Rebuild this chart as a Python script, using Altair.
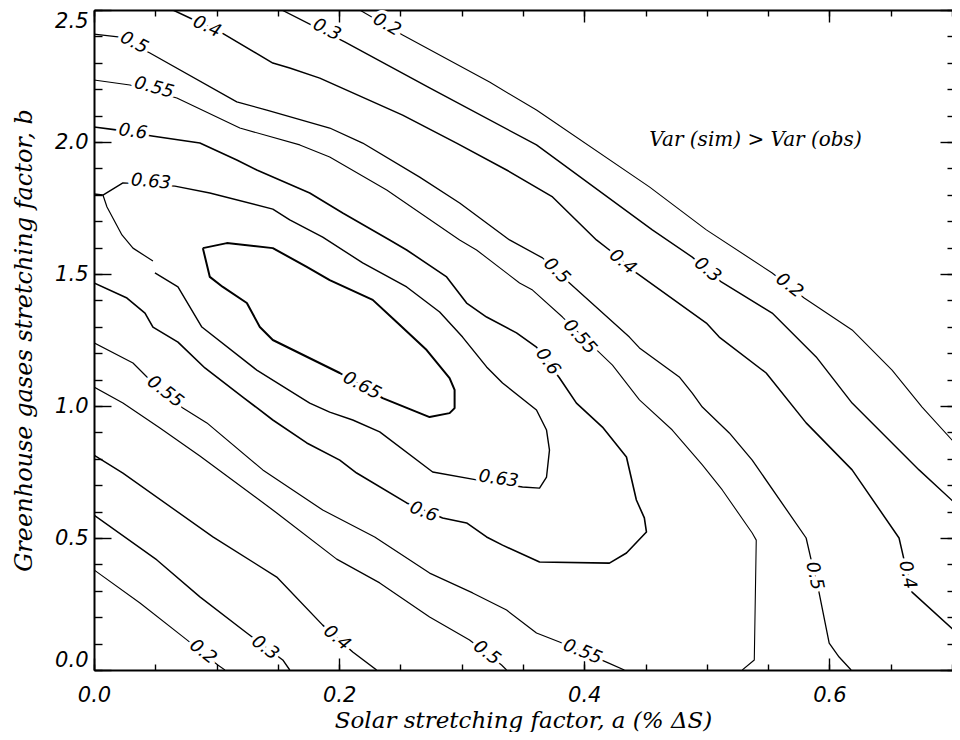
import altair as alt
import pandas as pd

# ---- contour lines (a = solar stretching factor, b = greenhouse stretching factor) ----
c02_hi_a = [0.2168, 0.2518, 0.3227, 0.361, 0.4531, 0.4996, 0.5533, 0.5794, 0.6185, 0.6511, 0.6756, 0.7041]
c02_hi_b = [2.5, 2.405, 2.227, 2.121, 1.83, 1.667, 1.504, 1.409, 1.288, 1.136, 0.996, 0.85]

c03_hi_a = [0.1532, 0.2045, 0.2738, 0.361, 0.4555, 0.4881, 0.5118, 0.5533, 0.5892, 0.6185, 0.6731, 0.7041]
c03_hi_b = [2.5, 2.379, 2.205, 1.989, 1.667, 1.564, 1.47, 1.352, 1.186, 1.011, 0.758, 0.625]

c04_hi_a = [0.0644, 0.1043, 0.1459, 0.1597, 0.1842, 0.2518, 0.2958, 0.3366, 0.3741, 0.4099, 0.4205,
            0.4425, 0.4996, 0.5101, 0.5484, 0.581, 0.6185, 0.6568, 0.6609, 0.6674, 0.7041]
c04_hi_b = [2.5, 2.413, 2.299, 2.28, 2.242, 2.102, 1.996, 1.894, 1.792, 1.629, 1.591,
            1.504, 1.314, 1.261, 1.125, 0.936, 0.758, 0.5, 0.417, 0.295, 0.14]

c05_hi_a = [0.0, 0.0196, 0.0456, 0.1165, 0.141, 0.1923, 0.2192, 0.2657, 0.2983, 0.339, 0.3659, 0.3879,
            0.4368, 0.445, 0.4775, 0.4881, 0.4963, 0.5183, 0.537, 0.581, 0.5851, 0.5916, 0.5998, 0.6079, 0.6177]
c05_hi_b = [2.409, 2.398, 2.337, 2.152, 2.121, 2.053, 1.996, 1.867, 1.769, 1.629, 1.561, 1.466,
            1.261, 1.22, 1.11, 1.049, 0.996, 0.898, 0.795, 0.5, 0.417, 0.292, 0.102, 0.049, 0.0]

c055_hi_a = [0.0, 0.0293, 0.0676, 0.119, 0.1679, 0.1923, 0.2388, 0.2983, 0.3121, 0.3472, 0.3578,
             0.3822, 0.423, 0.445, 0.4718, 0.4963, 0.5126, 0.537, 0.5403, 0.5387, 0.5289]
c055_hi_b = [2.235, 2.216, 2.167, 2.053, 1.989, 1.943, 1.818, 1.629, 1.591, 1.466, 1.439,
             1.337, 1.155, 1.023, 0.909, 0.777, 0.682, 0.519, 0.492, 0.038, 0.0]

c06_a = [0.0, 0.0196, 0.0473, 0.0864, 0.1165, 0.1328, 0.176, 0.2029, 0.2412, 0.2551, 0.2877, 0.304,
         0.3203, 0.3447, 0.361, 0.3798, 0.3936, 0.4148, 0.4344, 0.4425, 0.449, 0.4507, 0.4344, 0.4205,
         0.3635, 0.3333, 0.3203, 0.304, 0.2844, 0.2551, 0.2143, 0.2005, 0.1736, 0.1459, 0.1214, 0.0905,
         0.0685, 0.0481, 0.0416, 0.0269, 0.0]
c06_b = [2.057, 2.045, 2.023, 1.996, 1.932, 1.894, 1.807, 1.731, 1.629, 1.591, 1.489, 1.39,
         1.337, 1.277, 1.223, 1.106, 1.011, 0.92, 0.807, 0.644, 0.576, 0.523, 0.443, 0.405,
         0.409, 0.473, 0.504, 0.557, 0.576, 0.633, 0.746, 0.795, 0.86, 0.947, 1.034, 1.144,
         1.242, 1.299, 1.352, 1.409, 1.466]

c063_a = [0.0, 0.0073, 0.0236, 0.066, 0.0945, 0.1459, 0.1597, 0.1866, 0.2192, 0.2551, 0.282, 0.3007,
          0.3203, 0.3333, 0.361, 0.3692, 0.3716, 0.3692, 0.3635, 0.3496, 0.3121, 0.2763, 0.2331, 0.2111,
          0.1923, 0.176, 0.1328, 0.088, 0.0685, 0.0497]
c063_b = [1.803, 1.799, 1.845, 1.833, 1.807, 1.746, 1.705, 1.64, 1.542, 1.451, 1.356, 1.261,
          1.148, 1.087, 0.985, 0.909, 0.833, 0.731, 0.689, 0.693, 0.72, 0.75, 0.902, 0.947,
          0.977, 1.011, 1.136, 1.299, 1.451, 1.504]
c063_tail_a = [0.0481, 0.0318, 0.0228, 0.0106, 0.0073]
c063_tail_b = [1.549, 1.598, 1.648, 1.754, 1.799]

c065_a = [0.0888, 0.1084, 0.1459, 0.1736, 0.1923, 0.2274, 0.2469, 0.2714, 0.2901, 0.2942, 0.2942,
          0.2901, 0.2738, 0.2355, 0.2005, 0.1459, 0.1353, 0.1247, 0.1051, 0.0945, 0.0888]
c065_b = [1.598, 1.617, 1.598, 1.527, 1.477, 1.402, 1.318, 1.212, 1.106, 1.061, 0.992,
          0.973, 0.958, 1.03, 1.125, 1.25, 1.299, 1.39, 1.451, 1.489, 1.598]

c055_lo_a = [0.0, 0.0318, 0.0432, 0.0725, 0.0921, 0.1377, 0.1866, 0.229, 0.2738, 0.3089, 0.3366,
             0.361, 0.3798, 0.4181, 0.4327]
c055_lo_b = [1.239, 1.163, 1.11, 0.992, 0.936, 0.758, 0.606, 0.504, 0.367, 0.292, 0.227,
             0.14, 0.106, 0.03, 0.0]

c05_lo_a = [0.0, 0.0236, 0.0538, 0.0864, 0.1491, 0.198, 0.2331, 0.2738, 0.3064, 0.3325, 0.3366]
c05_lo_b = [1.072, 1.011, 0.917, 0.811, 0.595, 0.42, 0.33, 0.201, 0.114, 0.019, 0.0]

c04_lo_a = [0.0, 0.0236, 0.097, 0.1491, 0.1866, 0.2111, 0.2306]
c04_lo_b = [0.814, 0.746, 0.504, 0.352, 0.17, 0.068, 0.0]

c03_lo_a = [0.0, 0.0513, 0.0864, 0.1247, 0.154, 0.1597]
c03_lo_b = [0.587, 0.417, 0.277, 0.14, 0.038, 0.0]

c02_lo_a = [0.0, 0.0375, 0.0758, 0.101, 0.1068]
c02_lo_b = [0.379, 0.254, 0.114, 0.019, 0.0]

# ---- inline contour labels ----
label_text = ["0.2", "0.3", "0.4", "0.5", "0.55", "0.6", "0.63", "0.65", "0.5", "0.55", "0.6", "0.4",
              "0.3", "0.2", "0.63", "0.6", "0.55", "0.55", "0.5", "0.4", "0.3", "0.2", "0.5", "0.4"]
label_a = [0.2388, 0.1899, 0.0921, 0.0326, 0.0489, 0.0318, 0.0465, 0.2184, 0.3773, 0.3961, 0.37, 0.4311,
           0.5004, 0.5672, 0.33, 0.2689, 0.0579, 0.3985, 0.3203, 0.198, 0.1394, 0.0888, 0.5876, 0.6634]
label_b = [2.443, 2.424, 2.436, 2.375, 2.205, 2.038, 1.848, 1.076, 1.511, 1.261, 1.167, 1.545,
           1.515, 1.455, 0.723, 0.598, 1.053, 0.068, 0.064, 0.121, 0.083, 0.068, 0.356, 0.36]
label_angle = [30, 27, 25, 27, 15, 8, 5, 28, 45, 48, 55, 40, 40, 38, 8, 22, 38, 22, 38, 40, 37, 38, 78, 78]

note_text = ["Var (sim) > Var (obs)"]
note_a = [0.4531]
note_b = [2.008]

x_major = [0.0, 0.2, 0.4, 0.6]
x_minor = [0.0, 0.05, 0.1, 0.15, 0.2, 0.25, 0.3, 0.35, 0.4, 0.45, 0.5, 0.55, 0.6, 0.65, 0.7]
y_major = [0.0, 0.5, 1.0, 1.5, 2.0, 2.5]
y_minor = [0.0, 0.1, 0.2, 0.3, 0.4, 0.5, 0.6, 0.7, 0.8, 0.9, 1.0, 1.1, 1.2, 1.3, 1.4, 1.5, 1.6,
           1.7, 1.8, 1.9, 2.0, 2.1, 2.2, 2.3, 2.4, 2.5]

segments = [
    ("c02_hi", c02_hi_a, c02_hi_b, 1.1),
    ("c03_hi", c03_hi_a, c03_hi_b, 1.4),
    ("c04_hi", c04_hi_a, c04_hi_b, 1.5),
    ("c05_hi", c05_hi_a, c05_hi_b, 1.3),
    ("c055_hi", c055_hi_a, c055_hi_b, 1.1),
    ("c06", c06_a, c06_b, 1.6),
    ("c063", c063_a, c063_b, 1.4),
    ("c063_tail", c063_tail_a, c063_tail_b, 1.2),
    ("c065", c065_a, c065_b, 2.0),
    ("c055_lo", c055_lo_a, c055_lo_b, 1.2),
    ("c05_lo", c05_lo_a, c05_lo_b, 1.2),
    ("c04_lo", c04_lo_a, c04_lo_b, 1.4),
    ("c03_lo", c03_lo_a, c03_lo_b, 1.4),
    ("c02_lo", c02_lo_a, c02_lo_b, 1.1),
]

rows = []
for name, aa, bb, w in segments:
    if len(aa) != len(bb):
        raise ValueError(name)
    for i, (a, b) in enumerate(zip(aa, bb)):
        rows.append({"seg": name, "i": i, "a": a, "b": b, "w": w})
df = pd.DataFrame(rows)

labels = pd.DataFrame({"t": label_text, "a": label_a, "b": label_b, "ang": label_angle})
note = pd.DataFrame({"t": note_text, "a": note_a, "b": note_b})

W, H = 858, 660
xs = alt.Scale(domain=[0, 0.7], nice=False, zero=False)
ys = alt.Scale(domain=[0, 2.5], nice=False, zero=False)

TICK_FONT = "DejaVu Sans"
TITLE_FONT = "DejaVu Serif"

lines = alt.Chart(df).mark_line(color="black", strokeJoin="round", clip=True).encode(
    x=alt.X("a:Q", scale=xs, axis=alt.Axis(
        orient="bottom", values=x_major, format=".1f", ticks=False, tickSize=0,
        labelPadding=14, labelFlush=False, labelFont=TICK_FONT, labelFontSize=21,
        labelFontStyle="italic", labelColor="black", domain=True, domainColor="black",
        domainWidth=2, grid=False,
        title="Solar stretching factor, a (% ΔS)", titleFont=TITLE_FONT, titleFontSize=23,
        titleFontStyle="italic", titleFontWeight="normal", titleColor="black",
        titleY=57, titleBaseline="alphabetic")),
    y=alt.Y("b:Q", scale=ys, axis=alt.Axis(
        orient="left", values=y_major, format=".1f", ticks=False, tickSize=0,
        labelPadding=6, labelFlush=True, labelFont=TICK_FONT, labelFontSize=21,
        labelFontStyle="italic", labelColor="black", domain=True, domainColor="black",
        domainWidth=2, grid=False,
        title="Greenhouse gases stretching factor, b", titleFont=TITLE_FONT, titleFontSize=24,
        titleFontStyle="italic", titleFontWeight="normal", titleColor="black", titlePadding=18)),
    detail="seg:N",
    order="i:Q",
    strokeWidth=alt.StrokeWidth("w:Q", scale=None),
)


def tick_layer(xorient, xvals, xsize, yorient, yvals, ysize, xdomain):
    return alt.Chart(df).mark_line(opacity=0).encode(
        x=alt.X("a:Q", scale=xs, title=None, axis=alt.Axis(
            orient=xorient, offset=-H, values=xvals, tickSize=xsize, tickWidth=1.4,
            tickColor="black", labels=False, domain=xdomain, domainColor="black",
            domainWidth=2, grid=False)),
        y=alt.Y("b:Q", scale=ys, title=None, axis=alt.Axis(
            orient=yorient, offset=-W, values=yvals, tickSize=ysize, tickWidth=1.4,
            tickColor="black", labels=False, domain=False, grid=False)),
        detail="seg:N",
        order="i:Q",
    )


ticks_in_major = tick_layer("top", x_major, 12, "right", y_major, 17, False)
ticks_in_minor = tick_layer("top", x_minor, 6, "right", y_minor, 8, False)
ticks_out_major = tick_layer("bottom", x_major, 12, "left", y_major, 12, True)
ticks_out_minor = tick_layer("bottom", x_minor, 6, "left", y_minor, 5, False)

enc_lab = dict(
    x=alt.X("a:Q", scale=xs, axis=None),
    y=alt.Y("b:Q", scale=ys, axis=None),
    text="t:N",
    angle=alt.Angle("ang:Q", scale=None),
)
halo = alt.Chart(labels).mark_text(
    font=TICK_FONT, fontStyle="italic", fontSize=18, fill="white", stroke="white",
    strokeWidth=7, align="center", baseline="middle").encode(**enc_lab)
txt = alt.Chart(labels).mark_text(
    font=TICK_FONT, fontStyle="italic", fontSize=18, color="black",
    align="center", baseline="middle").encode(**enc_lab)

note_layer = alt.Chart(note).mark_text(
    font=TITLE_FONT, fontStyle="italic", fontSize=20, color="black",
    align="left", baseline="middle").encode(
    x=alt.X("a:Q", scale=xs, axis=None),
    y=alt.Y("b:Q", scale=ys, axis=None),
    text="t:N",
)

chart = alt.layer(
    lines, ticks_in_major, ticks_in_minor, ticks_out_major, ticks_out_minor, halo, txt, note_layer
).resolve_axis(x="independent", y="independent").properties(
    width=W, height=H,
    autosize=alt.AutoSizeParams(type="none"),
    padding={"left": 86, "top": 2, "right": 0, "bottom": 62},
    background="white",
).configure_view(stroke=None)

chart.save("out.html", embed_options={"renderer": "svg", "actions": False})
